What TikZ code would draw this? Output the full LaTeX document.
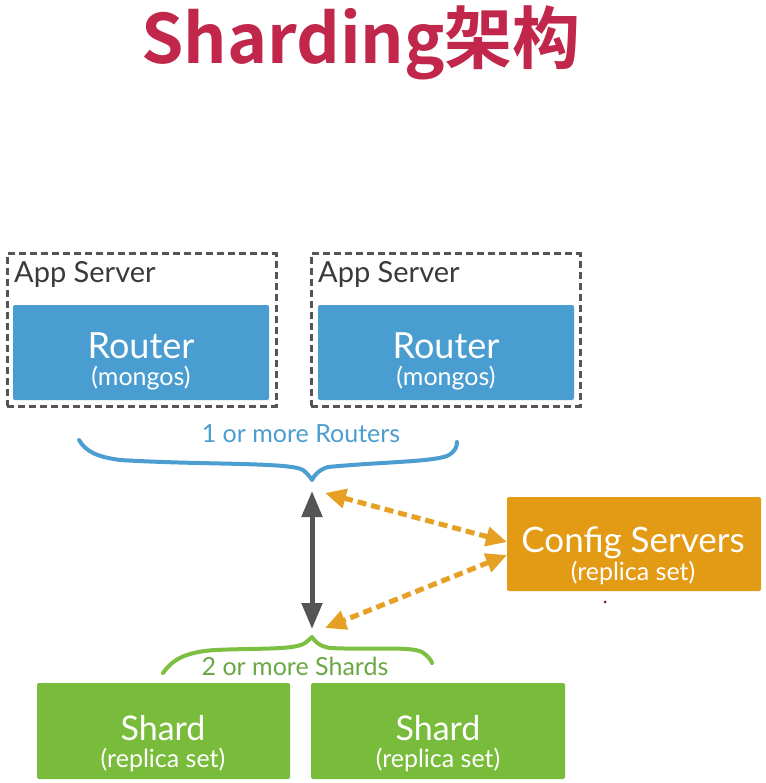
\documentclass[tikz,border=0pt]{standalone}
\usepackage{fontspec}
\setmainfont{Lato}
\newfontfamily\titlefont{Noto Sans CJK SC Bold}
\usetikzlibrary{arrows.meta}
\definecolor{titlered}{HTML}{C1264B}
\definecolor{dashgray}{HTML}{555555}
\definecolor{textgray}{HTML}{3A3A3A}
\definecolor{routerblue}{HTML}{4A9DD0}
\definecolor{braceblue}{HTML}{4C9ED0}
\definecolor{cfgorange}{HTML}{E39A14}
\definecolor{arroworange}{HTML}{E6A024}
\definecolor{shardgreen}{HTML}{79BC3B}
\definecolor{bracegreen}{HTML}{7CBF42}
\definecolor{textgreen}{HTML}{6AA843}
\definecolor{arrowgray}{HTML}{555555}
\definecolor{dotred}{HTML}{8B0A30}
\tikzset{
  appbox/.style={draw=dashgray, line width=3pt, dash pattern=on 7pt off 4pt, inner sep=0pt, outer sep=0pt, anchor=north west},
  routerbox/.style={fill=routerblue, rounded corners=2pt, inner sep=0pt, outer sep=0pt, anchor=north west},
  cfgbox/.style={fill=cfgorange, rounded corners=2pt, inner sep=0pt, outer sep=0pt, anchor=north west},
  shardbox/.style={fill=shardgreen, rounded corners=2pt, inner sep=0pt, outer sep=0pt, anchor=north west},
  bigtxt/.style={text=white, anchor=base, inner sep=0pt, font=\fontsize{36}{40}\selectfont},
  smalltxt/.style={text=white, anchor=base, inner sep=0pt, font=\fontsize{25}{28}\selectfont},
  bluebrace/.style={draw=braceblue, line width=4pt, line cap=round, line join=round},
  greenbrace/.style={draw=bracegreen, line width=4pt, line cap=round, line join=round},
  grayarrow/.style={draw=arrowgray, line width=5pt, {Triangle[width=20pt,length=26pt]}-{Triangle[width=20pt,length=26pt]}},
  orangearrow/.style={draw=arroworange, line width=5pt, dash pattern=on 9pt off 5pt, {Triangle[width=19pt,length=21pt]}-{Triangle[width=19pt,length=21pt]}}
}
\begin{document}
\begin{tikzpicture}[x=1pt,y=-1pt]
\useasboundingbox[fill=white] (0,0) rectangle (765,783);

% title
\node (title) [anchor=base, inner sep=0pt, text=titlered, font=\titlefont\fontsize{68}{72}\selectfont] at (361,64) {Sharding架构};

% app servers
\node (app1) [appbox, minimum width=269pt, minimum height=152pt] at (7,254) {};
\node (app2) [appbox, minimum width=269pt, minimum height=152pt] at (311,254) {};
\node (app1t) [anchor=base west, inner sep=0pt, text=textgray, font=\fontsize{29}{32}\selectfont] at (14,282) {App Server};
\node (app2t) [anchor=base west, inner sep=0pt, text=textgray, font=\fontsize{29}{32}\selectfont] at (318,282) {App Server};

% routers
\node (r1) [routerbox, minimum width=256pt, minimum height=95pt] at (13,305) {};
\node (r2) [routerbox, minimum width=256pt, minimum height=95pt] at (318,305) {};
\node (r1a) [bigtxt] at (141,358) {Router};
\node (r1b) [smalltxt] at (141,385) {(mongos)};
\node (r2a) [bigtxt] at (446,358) {Router};
\node (r2b) [smalltxt] at (446,385) {(mongos)};

% routers brace
\node (rlab) [anchor=base, inner sep=0pt, text=braceblue, font=\fontsize{25}{28}\selectfont] at (301,442) {1 or more Routers};
\draw[bluebrace] (79,440) .. controls (86,452) and (98,457) .. (120,460)
  .. controls (200,465) and (290,462) .. (303,470)
  .. controls (308,474) and (310,477) .. (312,480)
  .. controls (314,476) and (318,470) .. (328,467)
  .. controls (380,462) and (430,462) .. (447,456)
  .. controls (455,452) and (457,447) .. (457,442);

% config servers
\node (cfg) [cfgbox, minimum width=254pt, minimum height=94pt] at (507,497) {};
\node (cfga) [bigtxt, font=\fontsize{35}{38}\selectfont] at (633,552) {Config Servers};
\node (cfgb) [smalltxt] at (633,580) {(replica set)};
\fill[dotred] (605,602) circle (1.5pt);

% shards brace
\draw[greenbrace] (163,673) .. controls (172,660) and (185,652) .. (215,650)
  .. controls (260,648) and (295,650) .. (305,643)
  .. controls (309,640) and (311,638) .. (312,637)
  .. controls (314,640) and (318,646) .. (330,648)
  .. controls (370,650) and (410,646) .. (422,652)
  .. controls (428,656) and (431,660) .. (432,663);
\node (slab) [anchor=base, inner sep=0pt, text=textgreen, font=\fontsize{25}{28}\selectfont] at (295,675) {2 or more Shards};

% shards
\node (s1) [shardbox, minimum width=253pt, minimum height=96pt] at (37,683) {};
\node (s2) [shardbox, minimum width=254pt, minimum height=96pt] at (311,683) {};
\node (s1a) [bigtxt, font=\fontsize{34}{38}\selectfont] at (163,740) {Shard};
\node (s1b) [smalltxt] at (163,767) {(replica set)};
\node (s2a) [bigtxt, font=\fontsize{34}{38}\selectfont] at (438,740) {Shard};
\node (s2b) [smalltxt] at (438,767) {(replica set)};

% connectors
\coordinate (rtip) at (312,491);
\coordinate (stip) at (312,629);
\coordinate (rtipo) at (325,493);
\coordinate (stipo) at (325,628);
\coordinate (cfgin1) at (507,542);
\coordinate (cfgin2) at (507,555);
\draw[grayarrow] (rtip) -- (stip);
\draw[orangearrow] (rtipo) -- (cfgin1);
\draw[orangearrow] (cfgin2) -- (stipo);
\end{tikzpicture}
\end{document}
